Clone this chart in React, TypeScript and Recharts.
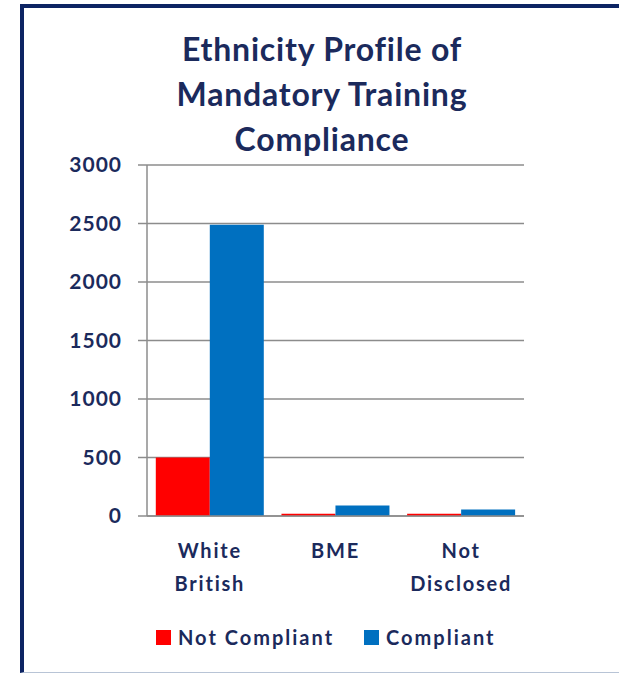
import { BarChart, Bar, XAxis, YAxis, CartesianGrid, Legend } from "recharts";

const categories = ["White British", "BME", "Not Disclosed"];
const notCompliant = [500, 20, 20];
const compliant = [2490, 90, 55];
const yTicks = [0, 500, 1000, 1500, 2000, 2500, 3000];
const boundaryTicks = [0, 1, 2, 3];
const seriesNames = ["Not Compliant", "Compliant"];
const titleLines = ["Ethnicity Profile of", "Mandatory Training", "Compliance"];

const NAVY = "#1b2a5c";
const RED = "#ff0000";
const BLUE = "#0070c0";
const GRID = "#8c8c8c";
const FONT = "Lato, 'Open Sans', sans-serif";

const data = categories.map((name, i) => ({
  name,
  notCompliant: notCompliant[i],
  compliant: compliant[i],
}));

function CategoryTick({ x, y, payload }: any) {
  const words = String(payload.value).split(" ");
  return (
    <text
      x={x}
      y={y}
      textAnchor="middle"
      fill={NAVY}
      fontFamily={FONT}
      fontSize={20}
      fontWeight={700}
      letterSpacing={1.8}
    >
      {words.map((w, i) => (
        <tspan key={w} x={x} dy={i === 0 ? 31 : 33}>
          {w}
        </tspan>
      ))}
    </text>
  );
}

function LegendContent({ payload }: any) {
  const items = [...(payload || [])].sort(
    (a: any, b: any) => seriesNames.indexOf(a.value) - seriesNames.indexOf(b.value)
  );
  return (
    <div style={{ display: "flex", alignItems: "center", gap: 30 }}>
      {items.map((p: any) => (
        <div key={p.value} style={{ display: "flex", alignItems: "center", gap: 7 }}>
          <span style={{ width: 15, height: 15, background: p.color, display: "inline-block" }} />
          <span
            style={{
              color: NAVY,
              fontFamily: FONT,
              fontSize: 20,
              fontWeight: 700,
              letterSpacing: 2,
            }}
          >
            {p.value}
          </span>
        </div>
      ))}
    </div>
  );
}

export default function App() {
  return (
    <div style={{ position: "absolute", left: 0, top: 0, width: 619, height: 676, background: "#fff" }}>
      <div
        style={{
          position: "absolute",
          left: 20,
          top: 4,
          right: 0,
          bottom: 3,
          borderLeft: "4px solid #0d2463",
          borderTop: "4px solid #0d2463",
          borderBottom: "1px solid #b8c4d6",
        }}
      />
      <div
        style={{
          position: "absolute",
          left: 122,
          width: 400,
          top: 26,
          textAlign: "center",
          color: NAVY,
          fontFamily: FONT,
          fontWeight: 700,
          fontSize: 32,
          letterSpacing: 0.8,
          lineHeight: "45px",
        }}
      >
        {titleLines.map((t) => (
          <div key={t}>{t}</div>
        ))}
      </div>
      <div style={{ position: "absolute", left: 0, top: 0 }}>
        <BarChart
          width={619}
          height={676}
          data={data}
          margin={{ top: 165, right: 95, left: 0, bottom: 27 }}
          barCategoryGap="7%"
          barGap={0}
        >
          <CartesianGrid vertical={false} stroke={GRID} strokeWidth={1.5} />
          <XAxis
            xAxisId="bounds"
            type="number"
            domain={[0, 3]}
            ticks={boundaryTicks}
            height={0}
            axisLine={false}
            tick={false}
            tickSize={9}
            tickLine={{ stroke: GRID, strokeWidth: 1.5 }}
          />
          <XAxis
            xAxisId="cat"
            dataKey="name"
            height={109}
            axisLine={{ stroke: GRID, strokeWidth: 1.5 }}
            tickLine={false}
            tickSize={9}
            tickMargin={2}
            tick={<CategoryTick />}
            interval={0}
          />
          <YAxis
            width={147}
            domain={[0, 3000]}
            ticks={yTicks}
            axisLine={{ stroke: GRID, strokeWidth: 1.5 }}
            tickLine={{ stroke: GRID, strokeWidth: 1.5 }}
            tickSize={9}
            tickMargin={16}
            tick={{ fill: NAVY, fontSize: 21, fontWeight: 700, fontFamily: FONT, letterSpacing: 1 }}
          />
          <Legend
            verticalAlign="bottom"
            height={24}
            wrapperStyle={{ left: 156, width: 400, bottom: 27 }}
            content={<LegendContent />}
          />
          <Bar xAxisId="cat" dataKey="notCompliant" name={seriesNames[0]} fill={RED} isAnimationActive={false} />
          <Bar xAxisId="cat" dataKey="compliant" name={seriesNames[1]} fill={BLUE} isAnimationActive={false} />
        </BarChart>
      </div>
    </div>
  );
}
